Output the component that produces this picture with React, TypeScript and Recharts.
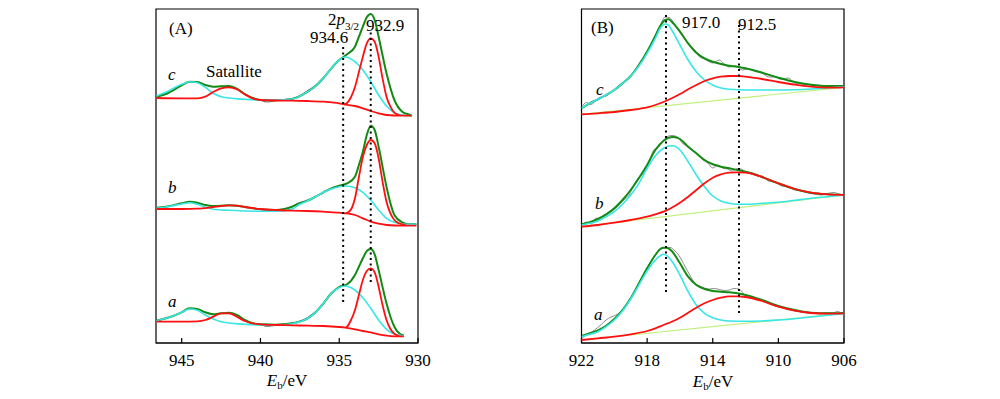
import React from 'react';
import { LineChart, Line, XAxis, YAxis, ReferenceLine, ReferenceArea } from 'recharts';

// ---- panel A: Cu 2p3/2 region (binding energy eV, intensity a.u.) ----
const ticksA = [945, 940, 935, 930];
const ticksB = [922, 918, 914, 910, 906];

const greenAc = [[946.6,246.3],[946,249],[945,257.7],[944.5,261.3],[944,261],[943.5,258],[943,256.3],[942.5,256.7],[942,257],[941.5,254.3],[941,249],[940.5,245],[940,243],[939,242.7],[938,244],[937,251.3],[936.5,257],[936,265],[935.5,274.7],[935,283],[934.5,288.7],[934,296.3],[933.75,306.3],[933.5,316.3],[933.25,325.7],[933,329],[932.75,323],[932.5,306.3],[932,269.7],[931.5,243],[931,231.3],[930.5,228],[930.4,227.3]];
const cyanAc = [[946.6,247],[946,250.7],[945,258.7],[944.5,261.3],[944,260.3],[943.5,255.7],[943,249.7],[942.5,246.3],[942,245],[941,243.7],[940,243],[939,243],[938,244],[937,251.3],[936.5,257],[936,265],[935.5,274.7],[935,283],[934.6,286],[934,281.3],[933.5,273],[933,261.3],[932.5,248],[932,237],[931.5,230.3],[931,228],[930.4,227.3]];
const bgAc = [[946.6,245],[945,244.7],[944,244.7],[943.5,246.3],[943,251],[942.5,254.7],[942,255.7],[941.5,253.7],[941,248.7],[940.5,244.7],[940,243],[938,242.3],[937,242],[936,241.3],[935,239.7],[934.7,238.7],[934,237],[933.5,234.7],[933,232],[932.5,229.7],[932,228],[931,227.3],[930.4,227.3]];
const peakAc = [[934.7,238.7],[934.5,240],[934.25,246],[934,256],[933.75,271],[933.5,286.3],[933.25,299.7],[933,304.7],[932.75,301.3],[932.5,286.3],[932.25,264.7],[932,246.3],[931.75,236.3],[931.5,230.3],[931.2,228]];
const grayAc = [[941,249],[940.5,245],[940,243],[939.6,241],[939.3,241.5],[939,242.7],[938,244],[937.3,249],[936.9,253.5],[936.5,257.5],[936,265]];

const greenAb = [[946.6,135.3],[946,136.3],[945,139.7],[944.5,141.3],[944,140.3],[943.5,138],[943,137],[942,137.7],[941.5,137.3],[941,136],[940,133.7],[939,133],[938,136.3],[937.5,139.7],[937,142.3],[936.5,146.3],[936,150.7],[935.5,154.7],[935,157.3],[934.5,159.7],[934,166.3],[933.75,178],[933.5,191.3],[933.25,208],[933,217.3],[932.75,213],[932.5,196.3],[932,156.3],[931.75,139.7],[931.5,128],[931,120.7],[930.5,118.7],[930.1,118.7]];
const cyanAb = [[946.6,134.7],[946,136],[945,139],[944.5,140.3],[944,138.7],[943.5,135.7],[943,133.7],[942,132.7],[940,131.7],[939,131.7],[938,134],[937.5,138.7],[937,142.3],[936.5,146.3],[936,150.7],[935.5,154],[935,156.3],[934.6,157],[934,155.3],[933.5,150.7],[933,143],[932.5,133],[932,124.7],[931.5,120.7],[931,119],[930.1,118.7]];
const bgAb = [[946.6,134],[945,134],[944,134.3],[943,136],[942.5,137],[942,137.7],[941.5,137.3],[941,136],[940,134],[939,133],[938,132.3],[937,132],[936,131.3],[935,130.3],[934.6,129.7],[934,128],[933.5,124.7],[933,121.3],[932.5,119.3],[932,118],[931,117.3],[930.1,117.3]];
const peakAb = [[934.6,129.7],[934.4,131],[934.2,135],[934,144.7],[933.75,166],[933.5,186],[933.25,198],[933,203],[932.75,199.7],[932.5,184.7],[932.25,161.3],[932,141.3],[931.75,129.7],[931.5,123],[931.2,119.7],[930.8,118]];
const grayAb = [[941,136],[940,133.7],[939.5,132],[939,133],[938,136.3],[937.6,140],[937.2,142],[936.8,144.5],[936.5,146.3]];

const greenAa = [[946.6,22.3],[946,24.7],[945,30.7],[944.5,34.7],[944,34],[943.5,30.7],[943,28.7],[942.5,29.7],[942,30.3],[941.5,28],[941,23],[940.5,19.7],[940,18.7],[939,18.3],[938,19.7],[937,24.7],[936.5,30.7],[936,39.7],[935.5,49.7],[935,56],[934.5,58.7],[934,68],[933.75,76.3],[933.5,84.7],[933.25,92],[933,94],[932.75,88.7],[932.5,73],[932,39.7],[931.75,26.3],[931.5,16.3],[931.2,9.7],[930.9,7.3]];
const cyanAa = [[946.6,22.3],[946,24.7],[945,30.7],[944.5,34],[944,32.7],[943.5,28],[943,24],[942.5,21.3],[942,20],[941,18.7],[940,18],[939,18],[938,19.3],[937,24.7],[936.5,30.7],[936,39.7],[935.5,49.7],[935,55.3],[934.7,57],[934.5,56.7],[934,53],[933.5,45.3],[933,34.7],[932.5,23],[932,13.7],[931.5,9],[931,7.3],[930.9,7]];
const bgAa = [[946.6,21.3],[945,21.3],[944,21.7],[943.5,23],[943,26.3],[942.5,29.7],[942,29.7],[941.5,26.3],[941,22],[940.5,19.7],[940,18.7],[939,18],[938,17.7],[937,17.3],[936,17],[935,16],[934.6,15.3],[934,13.7],[933.5,12],[933,10.7],[932.5,8.7],[932,7.3],[931.5,6.7],[930.9,6.7]];
const peakAa = [[934.6,15.3],[934.5,16.3],[934.25,23],[934,33],[933.75,48],[933.5,63],[933.25,72],[933,74.7],[932.75,70.7],[932.5,56.3],[932.25,38],[932,23],[931.75,14],[931.5,9.3],[931.2,7]];
const grayAa = [[941,23],[940.5,19.7],[940,18.7],[939.6,16.5],[939.3,17],[939,18.3],[938,19.7],[937.4,22.5],[937,25.5],[936.5,31]];

// ---- panel B: Cu LMM Auger region ----
const baseBc = [[922,228.7],[906,255.7]];
const redBc = [[922,228.7],[921,229.7],[920,231],[919,233],[918,235.7],[917.5,238],[917,241],[916.5,244.7],[916,249],[915.5,253.7],[915,258],[914.5,262],[914,264.7],[913.5,266.3],[913,267],[912.5,267],[912,266.3],[911,264],[910,261],[909,258.3],[908,256.3],[907,255.3],[906,255.7]];
const cyanBc = [[922,234.7],[921.5,239.7],[921,243.7],[920.5,248],[920,253],[919.5,259.7],[919,267],[918.5,277],[918,289.7],[917.5,304.7],[917.2,314.7],[916.9,319],[916.7,318],[916.5,313],[916,298],[915.5,283],[915,271.3],[914.5,263],[914,258],[913.5,255],[913,253.7],[912,253],[911,253],[910,253],[909,253.3],[908,254],[907,255],[906,256.3]];
const greenBc = [[922,234.7],[921.5,239.7],[921,243.7],[920.5,248],[920,253],[919.5,259.7],[919,267],[918.5,278],[918,291.3],[917.5,307],[917.2,317],[916.9,323],[916.7,323.7],[916.5,321.3],[916,311.3],[915.5,299.7],[915,290.3],[914.5,284.7],[914,281.3],[913.5,279],[913,277.3],[912.5,276.3],[912,274.7],[911,270.3],[910,265.3],[909,261],[908,258.3],[907,257],[906,257]];
const grayBc = [[922,236],[921.7,240.5],[921.4,238.5],[921.1,243],[920.8,246],[920.5,247],[920.2,251],[919.9,254],[919.5,259],[919,267],[918.5,279],[918,292],[917.5,308],[917.2,318],[916.9,326],[916.6,325],[916.3,318],[916,312],[915.7,305],[915.4,297],[915.1,293],[914.8,286],[914.5,284],[914,280],[913.6,283],[913.3,279],[913,276],[912.6,277],[912.2,273],[911.8,274],[911.4,271.5],[911,270],[910.6,266],[910.2,266],[909.8,263.5],[909.4,265],[909,260],[908.5,259],[908,258],[907.5,257],[907,256],[906.5,257],[906,257]];

const baseBb = [[922,116.3],[906,148]];
const redBb = [[922,116.3],[921,118],[920,120.3],[919,123],[918,126.3],[917.5,128.7],[917,131.3],[916.5,135.3],[916,140.3],[915.5,146.3],[915,153],[914.5,159.7],[914,165.3],[913.5,168.7],[913,170.3],[912.5,170.7],[912,170.3],[911.5,168.7],[911,166],[910,159.7],[909,154],[908,150.3],[907,148.7],[906,148]];
const cyanBb = [[922,118],[921.5,119.7],[921,122],[920.5,126.3],[920,131.3],[919.5,138.7],[919,148],[918.5,159.7],[918,174.7],[917.5,187.3],[917,194.7],[916.7,197],[916.4,197.3],[916,193],[915.5,181.3],[915,168],[914.5,156.3],[914,147],[913.5,142],[913,139.7],[912.5,138.7],[912,138.7],[911,139.7],[910,140.7],[909,142.7],[908,144.7],[907,146.3],[906,148]];
const greenBb = [[922,118.7],[921.5,120.7],[921,124],[920.5,128.7],[920,134.7],[919.5,143],[919,153],[918.5,165],[918,178],[917.5,193],[917,202.3],[916.7,205.3],[916.4,206],[916,204],[915.5,196.3],[915,189.7],[914.5,183],[914,178.7],[913.5,176.3],[913,174.7],[912.5,173],[912,171.3],[911.5,169],[911,166],[910,159.7],[909,154],[908,150.3],[907,148.7],[906,148]];
const grayBb = [[922,117],[921.7,121],[921.4,119],[921.1,125],[920.8,123.5],[920.5,128],[920.2,131],[919.9,135],[919.5,142],[919.1,148],[918.8,158],[918.5,166],[918.2,170],[917.9,180],[917.6,193],[917.3,196],[917,202],[916.7,207],[916.4,207.5],[916.1,205],[915.8,199],[915.5,197],[915.2,192],[914.9,188],[914.6,183],[914.3,180],[914,175],[913.7,178],[913.4,175],[913.1,174],[912.8,172],[912.5,174.5],[912.2,173.5],[911.9,170],[911.6,170],[911.3,167],[911,167],[910.6,162],[910.2,161],[909.8,157],[909.4,156],[909,153],[908.6,152],[908.2,150],[907.8,149],[907.4,148],[907,149.5],[906.6,150.5],[906.3,149],[906,148]];

const baseBa = [[922,3],[906,29.7]];
const redBa = [[922,3],[921,4.7],[920,6.3],[919,8.7],[918,12],[917.5,14.7],[917,18],[916.5,21.3],[916,25.3],[915.5,30.3],[915,35.3],[914.5,39.7],[914,43],[913.5,45.3],[913,46.7],[912.5,46.7],[912,46],[911,42],[910,36.3],[909,32.3],[908,30],[907,29.3],[906,29.7]];
const cyanBa = [[922,6.3],[921.5,8.7],[921,11.3],[920.5,16.3],[920,23],[919.5,32],[919,44],[918.5,58],[918,72],[917.5,83],[917.2,87.3],[917,88.7],[916.8,87.3],[916.5,82],[916,68],[915.5,51.3],[915,38],[914.5,29.7],[914,25.3],[913.5,23],[913,22],[912,21.7],[911,22],[910,23],[909,24.3],[908,26],[907,27.7],[906,29.3]];
const greenBa = [[922,7],[921.5,9.7],[921,12.7],[920.5,17.3],[920,24],[919.5,33],[919,44.7],[918.5,59.7],[918,74.7],[917.5,88],[917.2,94],[917,95.3],[916.8,95.3],[916.5,92],[916,79.7],[915.5,66.3],[915,58],[914.5,54],[914,52],[913.5,51.3],[913,50.7],[912.5,49.7],[912,48],[911,43],[910,37],[909,33],[908,30.3],[907,29.7],[906,30]];
const grayBa = [[922,5],[921.6,9],[921.2,13],[920.8,18.5],[920.5,23],[920.2,26],[919.9,28],[919.5,33],[919,45],[918.5,60],[918,75],[917.5,88],[917.2,93.5],[916.9,95],[916.6,95.5],[916.3,92],[916,86],[915.7,77],[915.4,68],[915.1,60],[914.8,57],[914.5,55],[914.2,54],[913.9,54.5],[913.6,53.5],[913.3,52.5],[913,53],[912.7,54.5],[912.4,54],[912.1,49],[911.8,45.5],[911.5,45],[911,42.5],[910.5,39],[910,36.5],[909.5,34],[909,32],[908.5,31],[908,30.5],[907.5,29.5],[907,30],[906.7,30],[906.4,31.5],[906.2,30.5],[906,30]];

const SERIF = '"Liberation Serif", "Times New Roman", serif';
const GREEN = '#138a13';
const RED = '#ff1010';
const CYAN = '#38e6e6';
const GRAY = '#8a8a8a';
const LIME = '#c2f07e';
const Y_MAX = 334;
const TICK_LEN = 5;

const pts = (arr: number[][]) => arr.map(([x, y]) => ({ x, y }));

type Curve = { d: number[][]; c: string; w: number };

const Panel = ({ domain, ticks, curves, dots, margin }: any) => (
  <LineChart width={500} height={399} margin={margin}>
    <XAxis type="number" dataKey="x" domain={domain} reversed allowDataOverflow ticks={ticks} interval={0}
      tick={{ fontFamily: SERIF, fontSize: 17, fill: '#000' }} tickLine={false} tickSize={11} tickMargin={0}
      height={30} stroke="#000" />
    <YAxis type="number" domain={[0, Y_MAX]} allowDataOverflow hide />
    <ReferenceArea x1={domain[0]} x2={domain[1]} y1={0} y2={Y_MAX} fill="none" fillOpacity={0}
      stroke="#000" strokeWidth={1.2} ifOverflow="visible" />
    {ticks.map((t: number) => (
      <ReferenceLine key={'t' + t} segment={[{ x: t, y: 0 }, { x: t, y: TICK_LEN }]}
        stroke="#000" strokeWidth={1.2} ifOverflow="visible" />
    ))}
    {curves.map((cv: Curve, i: number) => (
      <Line key={i} data={pts(cv.d)} dataKey="y" type="monotone" stroke={cv.c}
        strokeWidth={cv.w} dot={false} activeDot={false} isAnimationActive={false} />
    ))}
    {dots.map((s: number[], i: number) => (
      <ReferenceLine key={'d' + i} segment={[{ x: s[0], y: s[1] }, { x: s[0], y: s[2] }]}
        stroke="#000" strokeWidth={2} strokeDasharray="2 3.5" />
    ))}
  </LineChart>
);

const curvesA: Curve[] = [
  { d: grayAc, c: GRAY, w: 1.2 }, { d: grayAb, c: GRAY, w: 1.2 }, { d: grayAa, c: GRAY, w: 1.2 },
  { d: greenAc, c: GREEN, w: 2 }, { d: greenAb, c: GREEN, w: 2 }, { d: greenAa, c: GREEN, w: 2 },
  { d: cyanAc, c: CYAN, w: 1.6 }, { d: cyanAb, c: CYAN, w: 1.6 }, { d: cyanAa, c: CYAN, w: 1.6 },
  { d: bgAc, c: RED, w: 1.8 }, { d: bgAb, c: RED, w: 1.8 }, { d: bgAa, c: RED, w: 1.8 },
  { d: peakAc, c: RED, w: 1.8 }, { d: peakAb, c: RED, w: 1.8 }, { d: peakAa, c: RED, w: 1.8 },
];

const curvesB: Curve[] = [
  { d: grayBc, c: GRAY, w: 1 }, { d: grayBb, c: GRAY, w: 1 }, { d: grayBa, c: GRAY, w: 1 },
  { d: baseBc, c: LIME, w: 1.2 }, { d: baseBb, c: LIME, w: 1.2 }, { d: baseBa, c: LIME, w: 1.2 },
  { d: greenBc, c: GREEN, w: 2 }, { d: greenBb, c: GREEN, w: 2 }, { d: greenBa, c: GREEN, w: 2 },
  { d: cyanBc, c: CYAN, w: 1.6 }, { d: cyanBb, c: CYAN, w: 1.6 }, { d: cyanBa, c: CYAN, w: 1.6 },
  { d: redBc, c: RED, w: 1.8 }, { d: redBb, c: RED, w: 1.8 }, { d: redBa, c: RED, w: 1.8 },
];

// dotted markers: [energy, yFrom, yTo]
const dotsA = [[934.75, 41, 298], [933.0, 61, 314]];
const dotsB = [[916.85, 51, 330], [912.4, 30, 318]];

const T = (p: any) => <text fontFamily={SERIF} fontSize={17} fill="#000" {...p} />;

export default function App() {
  return (
    <div style={{ position: 'absolute', left: 0, top: 0, width: 1000, height: 399, background: '#fff' }}>
      <div style={{ position: 'absolute', left: 0, top: 0 }}>
        <Panel domain={[930, 946.63]} ticks={ticksA} curves={curvesA} dots={dotsA}
          margin={{ top: 9, right: 82, bottom: 26, left: 156 }} />
      </div>
      <div style={{ position: 'absolute', left: 500, top: 0 }}>
        <Panel domain={[906, 922]} ticks={ticksB} curves={curvesB} dots={dotsB}
          margin={{ top: 9, right: 156, bottom: 26, left: 81.5 }} />
      </div>
      <svg width={1000} height={399} style={{ position: 'absolute', left: 0, top: 0, pointerEvents: 'none' }}>
        <T x={169} y={34}>(A)</T>
        <T x={328} y={25}>2<tspan fontStyle="italic">p</tspan><tspan fontSize={11} dy={5}>3/2</tspan></T>
        <T x={366} y={31}>932.9</T>
        <T x={310} y={43}>934.6</T>
        <T x={206} y={77}>Satallite</T>
        <T x={168} y={80} fontStyle="italic">c</T>
        <T x={168} y={193} fontStyle="italic">b</T>
        <T x={168} y={307} fontStyle="italic">a</T>
        <T x={287} y={386} textAnchor="middle"><tspan fontStyle="italic">E</tspan><tspan fontSize={11} dy={3}>b</tspan><tspan dy={-3}>/eV</tspan></T>

        <T x={591} y={33}>(B)</T>
        <T x={682} y={28}>917.0</T>
        <T x={738} y={30}>912.5</T>
        <T x={596} y={95} fontStyle="italic">c</T>
        <T x={595} y={209} fontStyle="italic">b</T>
        <T x={594} y={320} fontStyle="italic">a</T>
        <T x={713} y={387} textAnchor="middle"><tspan fontStyle="italic">E</tspan><tspan fontSize={11} dy={3}>b</tspan><tspan dy={-3}>/eV</tspan></T>
      </svg>
    </div>
  );
}
